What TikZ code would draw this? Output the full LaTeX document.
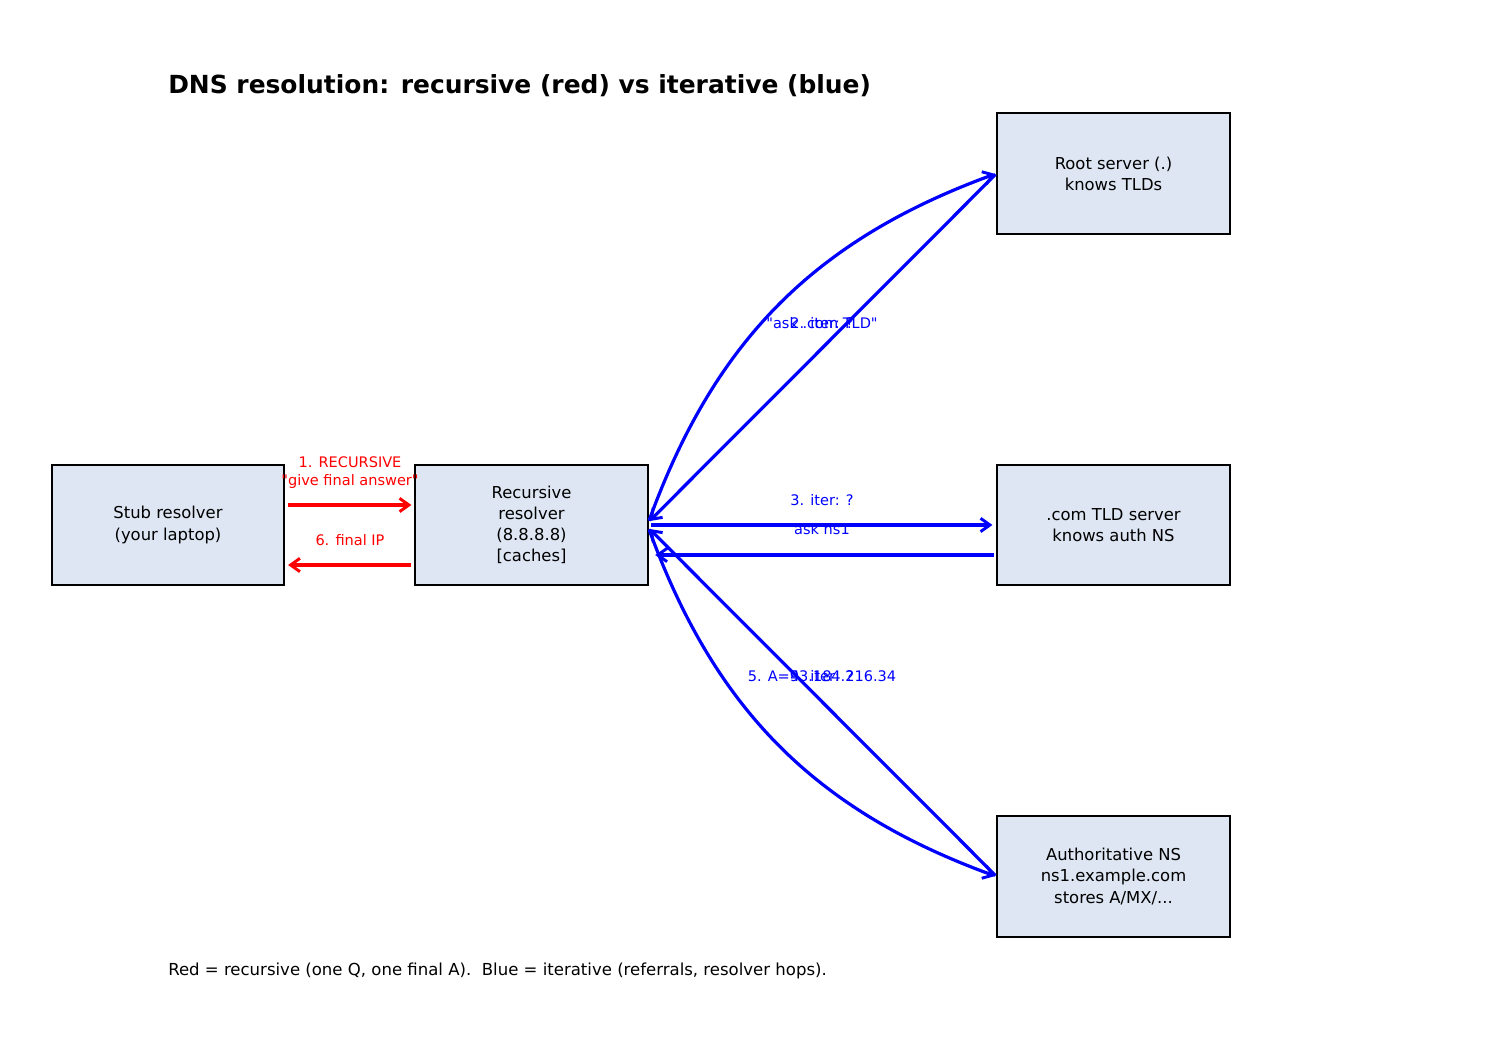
\documentclass[tikz,border=0pt]{standalone}
\usepackage{fontspec}
\setmainfont{DejaVu Sans}[Ligatures=TeXOff]
\usetikzlibrary{arrows.meta,calc}
\definecolor{boxfill}{RGB}{221,230,242}
\tikzset{
  srv/.style={draw=black, line width=1.2pt, fill=boxfill, minimum width=174.4pt, minimum height=90.4pt, inner sep=0pt, align=center, font=\fontsize{12.3}{15.8}\selectfont},
  redarr/.style={draw=red, line width=2.4pt, -{Straight Barb[length=7pt,width=10pt,line width=2.2pt]}},
  bluearr/.style={draw=blue, line width=2.4pt, -{Straight Barb[length=7pt,width=10pt,line width=2.2pt]}},
  redlbl/.style={text=red, font=\fontsize{10.9}{13.5}\selectfont, align=center, inner sep=0pt},
  bluelbl/.style={text=blue, font=\fontsize{10.9}{13.5}\selectfont, align=center, inner sep=0pt},
}
\begin{document}
\begin{tikzpicture}[x=0.75pt,y=0.75pt]
\useasboundingbox (0,0) rectangle (1500,1050);
\node[anchor=base west, font=\bfseries\fontsize{18.7}{22}\selectfont, inner sep=0pt] (title) at (168,956) {DNS resolution: recursive (red) vs iterative (blue)};
\node[srv] (stub) at (168,525) {Stub resolver\\(your laptop)};
\node[srv] (res) at (531.5,525) {Recursive\\resolver\\(8.8.8.8)\\{[caches]}};
\node[srv] (root) at (1113.5,876.5) {Root server (.)\\knows TLDs};
\node[srv] (tld) at (1113.5,525) {.com TLD server\\knows auth NS};
\node[srv] (auth) at (1113.5,173.5) {Authoritative NS\\ns1.example.com\\stores A/MX/...};
% red
\draw[redarr] ($(stub.east)+(3,20)$) -- ($(res.west)+(-3,20)$);
\draw[redarr] ($(res.west)+(-3,-40)$) -- ($(stub.east)+(3,-40)$);
\node[redlbl] (l1) at (350,577) {1. RECURSIVE\\"give final answer"};
\node[redlbl] (l6) at (350,510) {6. final IP};
% blue root
\draw[bluearr, shorten <=1pt, shorten >=1pt] ($(res.east)+(0,3)$) to[bend left=25] (root.west);
\draw[bluearr, shorten <=1pt, shorten >=1pt] (root.west) -- ($(res.east)+(0,3)$);
\node[bluelbl] (l2) at (822,727) {2. iter: ?};
\node[bluelbl] (l2b) at (822,727) {"ask .com TLD"};
% blue tld
\draw[bluearr, shorten <=2pt, shorten >=3pt] (res.east) -- (tld.west);
\draw[bluearr, shorten <=2pt, shorten >=5pt] ($(tld.west)+(0,-30)$) -- ($(res.east)+(0,-30)$);
\node[bluelbl] (l3) at (822,550) {3. iter: ?};
\node[bluelbl] (l3b) at (822,521) {ask ns1};
% blue auth
\draw[bluearr, shorten <=1pt, shorten >=1pt] ($(res.east)+(0,-3)$) to[bend right=25] (auth.west);
\draw[bluearr, shorten <=1pt, shorten >=1pt] (auth.west) -- ($(res.east)+(0,-3)$);
\node[bluelbl] (l4) at (822,374) {4. iter: ?};
\node[bluelbl] (l5) at (822,374) {5. A=93.184.216.34};
\node[anchor=base west, font=\fontsize{12.4}{15}\selectfont, inner sep=0pt] (foot) at (168,74) {Red = recursive (one Q, one final A).\ \ Blue = iterative (referrals, resolver hops).};
\end{tikzpicture}
\end{document}
